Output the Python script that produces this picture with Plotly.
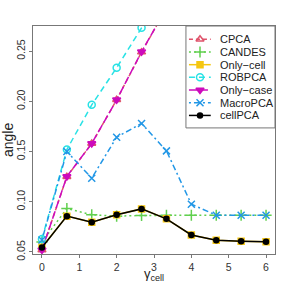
import plotly.graph_objects as go

gamma = [0, 0.667, 1.333, 2, 2.667, 3.333, 4, 4.667, 5.333, 6]

cpca      = [0.052, 0.125, 0.158, 0.2015, 0.249, 0.295, 0.34, 0.38, 0.42, 0.46]
candes    = [0.060, 0.0933, 0.0870, 0.0857, 0.0864, 0.0866, 0.0866, 0.0866, 0.0866, 0.0866]
only_cell = [0.0548, 0.0857, 0.0797, 0.0870, 0.0929, 0.0830, 0.0670, 0.0618, 0.0608, 0.0601]
robpca    = [0.0630, 0.152, 0.1965, 0.2334, 0.2732, 0.31, 0.35, 0.39, 0.42, 0.45]
only_case = [0.052, 0.1252, 0.158, 0.2015, 0.2493, 0.295, 0.34, 0.38, 0.42, 0.46]
macropca  = [0.0620, 0.150, 0.1235, 0.1643, 0.178, 0.1507, 0.0976, 0.0866, 0.0866, 0.0866]
cellpca   = [0.0545, 0.0857, 0.0797, 0.0870, 0.0929, 0.0830, 0.0670, 0.0618, 0.0608, 0.0601]

names = ["CPCA", "CANDES", "Only\u2212cell", "ROBPCA", "Only\u2212case", "MacroPCA", "cellPCA"]
values = [cpca, candes, only_cell, robpca, only_case, macropca, cellpca]
colors = ["#DF536B", "#61D04F", "#F5C710", "#28E2E5", "#CD0BBC", "#2297E6", "#000000"]
dashes = ["4px,3px", "2px,3px", "solid", "6px,4px", "8px,3px", "2px,3px,6px,3px", "solid"]
symbols = ["triangle-up-open", "cross-thin", "square", "circle-open", "triangle-down",
           "x-thin", "circle"]
sizes = [7, 8, 6, 7, 7, 7, 5]

fig = go.Figure()
for nm, v, c, d, s, sz in zip(names, values, colors, dashes, symbols, sizes):
    fig.add_trace(go.Scatter(
        x=gamma, y=v, mode="lines+markers", name=nm,
        line=dict(color=c, width=1.5, dash=d),
        marker=dict(symbol=s, size=sz, color=c, line=dict(color=c, width=1.5)),
        showlegend=False, xaxis="x", yaxis="y"))

# manual legend in an inset axis (units: pixels within the legend box)
leg_y = [13.3 + 12.7 * i for i in range(len(names))]
for i, (nm, c, d, s, sz) in enumerate(zip(names, colors, dashes, symbols, sizes)):
    fig.add_trace(go.Scatter(
        x=[3, 24.7], y=[leg_y[i], leg_y[i]], mode="lines",
        line=dict(color=c, width=1.5, dash=d), showlegend=False,
        xaxis="x2", yaxis="y2", hoverinfo="skip"))
    fig.add_trace(go.Scatter(
        x=[14], y=[leg_y[i]], mode="markers",
        marker=dict(symbol=s, size=sz, color=c, line=dict(color=c, width=1.5)),
        showlegend=False, xaxis="x2", yaxis="y2", hoverinfo="skip"))
    fig.add_annotation(x=32, y=leg_y[i], xref="x2", yref="y2", text=nm,
                       showarrow=False, xanchor="left", yanchor="middle",
                       font=dict(size=11, color="#222"))

fig.add_shape(type="rect", xref="x2 domain", yref="y2 domain", x0=0, x1=1, y0=0, y1=1,
              line=dict(color="#777", width=1))

# axis titles
fig.add_annotation(x=-25 / 242, y=0.5, xref="paper", yref="paper", text="angle",
                   textangle=-90, showarrow=False, xanchor="center", yanchor="middle",
                   font=dict(size=14, color="#222"))
fig.add_annotation(x=0.5, y=-20 / 228, xref="paper", yref="paper",
                   text="\u03b3<sub>cell</sub>", showarrow=False,
                   xanchor="center", yanchor="middle", font=dict(size=13, color="#222"))

axis_font = dict(family="Liberation Sans, Arial, sans-serif", size=10.5, color="#333")
fig.update_layout(
    width=288, height=288,
    margin=dict(l=33, r=13, t=26, b=34),
    paper_bgcolor="white", plot_bgcolor="white",
    font=dict(family="Liberation Sans, Arial, sans-serif"),
    xaxis=dict(range=[-0.24, 6.24], tickvals=[0, 1, 2, 3, 4, 5, 6],
               showgrid=False, zeroline=False, showline=True, mirror=True,
               linecolor="#777", linewidth=1, ticks="outside", ticklen=3,
               tickcolor="#777", tickfont=axis_font, automargin=False),
    yaxis=dict(range=[0.048, 0.275], tickvals=[0.05, 0.10, 0.15, 0.20, 0.25],
               ticktext=["0.05", "0.10", "0.15", "0.20", "0.25"],
               showgrid=False, zeroline=False, showline=True, mirror=True,
               linecolor="#777", linewidth=1, ticks="outside", ticklen=3,
               tickcolor="#777", tickfont=axis_font, tickangle=-90, automargin=False),
    xaxis2=dict(domain=[0.632, 1.0], range=[0, 88.7], visible=False, fixedrange=True),
    yaxis2=dict(domain=[0.553, 1.0], range=[102, 0], visible=False, fixedrange=True,
                anchor="x2"),
)
fig.write_html("out.html", config={"displayModeBar": False},
               post_script="document.body.style.margin='0';document.body.style.overflow='hidden';")
